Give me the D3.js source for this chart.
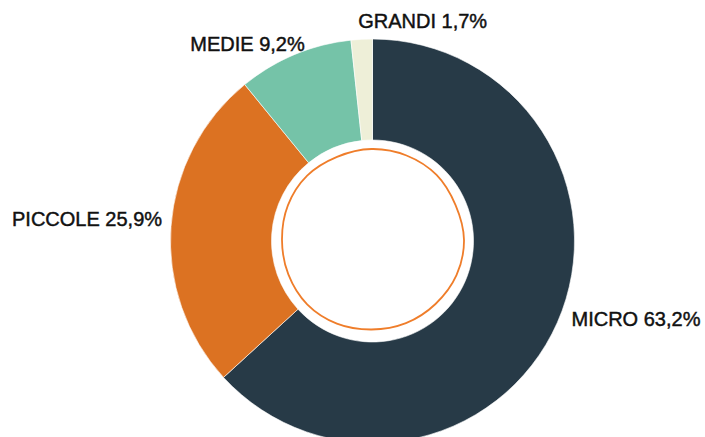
<!DOCTYPE html>
<html>
<head>
<meta charset="utf-8">
<script src="https://cdn.jsdelivr.net/npm/d3@7"></script>
<style>
  html, body { margin: 0; padding: 0; background: #ffffff; }
  svg { display: block; }
  text { font-family: "Liberation Sans", Arial, Helvetica, sans-serif; }
</style>
</head>
<body>
<svg id="chart" width="705" height="437"></svg>
<script>
// ---- data ----
const categories = ["MICRO", "PICCOLE", "MEDIE", "GRANDI"];
const values = [63.2, 25.9, 9.2, 1.7];
const valueLabels = ["63,2%", "25,9%", "9,2%", "1,7%"];
const colors = ["#273a47", "#dc7222", "#75c3a8", "#eeefd8"];

// ---- layout ----
const W = 705, H = 437;
const cx = 372.5, cy = 241;
const outerR = 202, innerR = 101, labelR = 212;

const svg = d3.select("#chart");
const g = svg.append("g").attr("transform", `translate(${cx},${cy})`);

const data = categories.map((c, i) => ({ cat: c, value: values[i], label: valueLabels[i], color: colors[i] }));

const pie = d3.pie().value(d => d.value).sort(null);
const arcs = pie(data);

const arc = d3.arc().innerRadius(innerR).outerRadius(outerR);

g.selectAll("path.slice")
  .data(arcs)
  .join("path")
  .attr("class", "slice")
  .attr("d", arc)
  .attr("fill", d => d.data.color)
  .attr("stroke", "#ffffff")
  .attr("stroke-width", 0.6);

// hand-drawn style inner ring (decorative)
const wobble = [91, 91.5, 92, 91, 92.5, 92, 90.5, 90, 89.5, 90.5, 91, 90, 89.5, 90.5, 91, 90];
const ring = d3.lineRadial()
  .angle((d, i) => i / wobble.length * 2 * Math.PI)
  .radius(d => d)
  .curve(d3.curveCardinalClosed);
g.append("path")
  .attr("d", ring(wobble))
  .attr("transform", "translate(-1,-1)")
  .attr("fill", "none")
  .attr("stroke", "#ef7d2a")
  .attr("stroke-width", 1.8);

// labels
const nudge = { MICRO: [5, 0], PICCOLE: [1, 0], MEDIE: [14, 6], GRANDI: [-3, -1] };
g.selectAll("text.lbl")
  .data(arcs)
  .join("text")
  .attr("class", "lbl")
  .each(function (d) {
    const a = (d.startAngle + d.endAngle) / 2;
    const s = Math.sin(a), c = -Math.cos(a);
    const n = nudge[d.data.cat] || [0, 0];
    d3.select(this)
      .attr("x", s * labelR + n[0])
      .attr("y", c * labelR + n[1])
      .attr("text-anchor", s > -0.1 ? "start" : "end");
  })
  .attr("font-size", 20)
  .attr("fill", "#111111")
  .attr("stroke", "#111111")
  .attr("stroke-width", 0.45)
  .text(d => `${d.data.cat} ${d.data.label}`);
</script>
</body>
</html>
